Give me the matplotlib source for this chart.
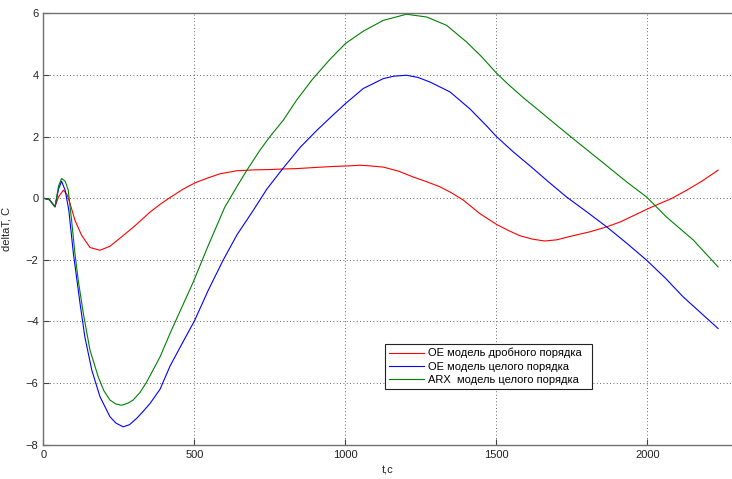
import matplotlib
matplotlib.use("Agg")
import matplotlib.pyplot as plt

plt.rcParams['font.family'] = ['Liberation Sans', 'DejaVu Sans']

# OE model, fractional order (red)
red_t = [0, 20, 38, 50, 66, 78, 88, 104, 126, 154, 187, 220, 253, 300, 353, 386,
         419, 460, 502, 545, 584, 640, 700, 750, 800, 838, 905, 960, 1015, 1048,
         1080, 1125, 1175, 1224, 1270, 1313, 1350, 1390, 1445, 1500, 1540, 1578,
         1620, 1660, 1700, 1732, 1770, 1810, 1865, 1910, 1953, 2000, 2030, 2080,
         2130, 2180, 2234]
red_y = [0, -0.05, -0.28, 0.05, 0.26, 0.12, -0.17, -0.71, -1.2, -1.6, -1.69, -1.56,
         -1.3, -0.92, -0.45, -0.2, 0.02, 0.28, 0.5, 0.66, 0.79, 0.89, 0.92, 0.93,
         0.95, 0.96, 1.0, 1.03, 1.05, 1.07, 1.05, 1.01, 0.88, 0.69, 0.53, 0.37,
         0.18, -0.06, -0.5, -0.85, -1.05, -1.22, -1.33, -1.39, -1.35, -1.27,
         -1.18, -1.09, -0.93, -0.77, -0.57, -0.35, -0.22, -0.01, 0.26, 0.55, 0.91]

# OE model, integer order (blue)
blue_t = [0, 20, 38, 50, 60, 72, 84, 99, 121, 137, 160, 187, 220, 240, 264, 285,
          309, 330, 353, 386, 419, 460, 500, 545, 595, 640, 695, 740, 794, 850,
          905, 948, 1000, 1059, 1125, 1160, 1202, 1240, 1280, 1346, 1412, 1467,
          1500, 1556, 1611, 1670, 1732, 1800, 1865, 1930, 1997, 2060, 2118, 2180,
          2234]
blue_y = [0, -0.05, -0.28, 0.3, 0.55, 0.25, -0.4, -1.79, -3.41, -4.5, -5.58, -6.44,
          -7.09, -7.3, -7.42, -7.35, -7.14, -6.92, -6.66, -6.2, -5.45, -4.7, -3.98,
          -3.0, -2.01, -1.2, -0.39, 0.3, 0.98, 1.65, 2.2, 2.6, 3.07, 3.56, 3.88,
          3.96, 3.99, 3.92, 3.77, 3.45, 2.9, 2.35, 2.0, 1.5, 1.05, 0.55, 0.04,
          -0.45, -0.93, -1.45, -2.01, -2.6, -3.2, -3.75, -4.23]

# ARX model, integer order (green)
green_t = [0, 20, 38, 50, 60, 72, 82, 93, 104, 115, 132, 154, 181, 200, 220, 240,
           259, 280, 297, 320, 342, 386, 419, 460, 496, 545, 600, 640, 675, 717,
           750, 794, 838, 890, 948, 1000, 1059, 1125, 1202, 1269, 1335, 1401, 1450,
           1500, 1534, 1589, 1644, 1677, 1754, 1843, 1931, 1997, 2063, 2152, 2234]
green_y = [0, -0.05, -0.28, 0.4, 0.64, 0.55, 0.26, -0.71, -1.78, -2.66, -3.74,
           -4.93, -5.79, -6.25, -6.55, -6.68, -6.72, -6.65, -6.55, -6.3, -5.96,
           -5.15, -4.39, -3.5, -2.72, -1.55, -0.3, 0.37, 0.93, 1.56, 2.0, 2.53,
           3.18, 3.85, 4.5, 5.02, 5.42, 5.77, 5.97, 5.88, 5.61, 5.07, 4.6, 4.06,
           3.74, 3.26, 2.82, 2.55, 1.93, 1.23, 0.53, 0.04, -0.61, -1.36, -2.23]

labels = ['OE модель дробного порядка',
          'OE модель целого порядка',
          'ARX  модель целого порядка']

fig = plt.figure(figsize=(7.32, 4.79), dpi=100)
ax = fig.add_axes([0.0594, 0.0716, 0.9406, 0.9006])

ax.plot(red_t, red_y, color='#ff0000', lw=0.8, label=labels[0])
ax.plot(blue_t, blue_y, color='#0000ff', lw=0.8, label=labels[1])
ax.plot(green_t, green_y, color='#008000', lw=0.8, label=labels[2])

ax.set_xlim(0, 2280)
ax.set_ylim(-8, 6)
ax.set_xticks([0, 500, 1000, 1500, 2000])
ax.set_yticks([-8, -6, -4, -2, 0, 2, 4, 6])
ax.grid(True, color='#333333', linestyle=(0, (1, 3)), linewidth=0.6)
ax.tick_params(direction='in', length=4, width=0.8, labelsize=8,
               colors='#404040', labelcolor='#222222')
for s in ['left', 'bottom', 'top']:
    ax.spines[s].set_color('#707070')
    ax.spines[s].set_linewidth(1.0)
ax.spines['right'].set_visible(False)

ax.set_xlabel('t,c', fontsize=8, color='#222222', labelpad=4)
ax.set_ylabel('deltaT, C', fontsize=8, color='#222222', labelpad=10)

leg = ax.legend(loc='lower left', bbox_to_anchor=(0.496, 0.129, 0.301, 0.13),
                mode='expand', fontsize=8, frameon=True, fancybox=False,
                handlelength=3.2, handletextpad=0.3, borderpad=0.35,
                labelspacing=0.3, borderaxespad=0)
leg.get_frame().set_edgecolor('#222222')
leg.get_frame().set_linewidth(0.8)
leg.get_frame().set_alpha(1)

fig.savefig('out.png', dpi=100)
